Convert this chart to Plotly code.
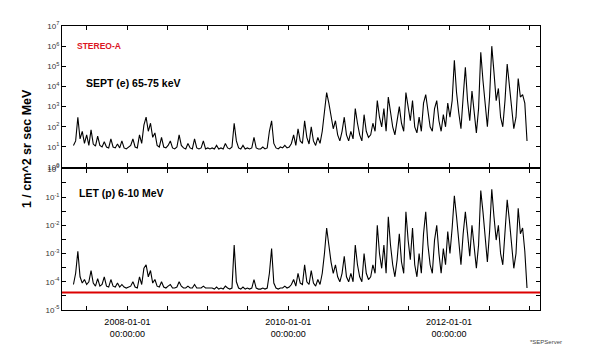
import pandas as pd
import plotly.graph_objects as go

# SEPT electrons 65-75 keV, 10-day samples starting 2007-05-01
sept_flux = [
    # 2007
    12, 20, 300, 25, 60, 15, 40, 12, 70, 14, 11, 35, 12, 10, 18, 10, 9, 25, 10, 9, 14, 9, 20, 9, 8,
    # 2008
    10, 12, 25, 10, 9, 40, 15, 120, 300, 60, 150, 30, 50, 12, 10, 30, 10, 9, 12, 20, 9, 8, 10, 40, 12,
    9, 8, 15, 9, 8, 25, 9, 8, 9, 20, 8, 9,
    # 2009
    8, 9, 8, 12, 8, 9, 8, 15, 9, 8, 10, 150, 20, 9, 8, 12, 8, 9, 8, 9, 30, 9, 8, 8, 10,
    8, 9, 60, 200, 15, 9, 8, 10, 9, 12, 9,
    # 2010
    10, 15, 40, 12, 80, 20, 15, 200, 30, 14, 100, 20, 12, 30, 15, 60, 400, 5000, 1500, 300,
    80, 200, 40, 20, 60, 300, 40, 20, 60, 25, 800, 150, 40, 20, 400, 60, 30,
    # 2011
    40, 150, 60, 2000, 300, 100, 800, 60, 3000, 500, 100, 40, 200, 1000, 150, 60, 5000, 800,
    200, 2000, 100, 50, 300, 60, 1500, 4000, 500, 100, 60, 800, 2000, 200, 60, 400, 100, 1500,
    # 2012
    300, 2000, 200000, 5000, 500, 80, 3000, 90000, 2000, 200, 6000, 500, 50, 800, 500000, 20000,
    1000, 100, 3000, 1000000, 50000, 2000, 8000, 300, 100, 2000, 130000, 10000, 500, 80, 300,
    25000, 3000, 4000, 1500, 20,
]

# LET protons 6-10 MeV, same sampling
let_flux = [
    # 2007
    8e-5, 2e-4, 1.2e-3, 1.5e-4, 9e-5, 1.2e-4, 8e-5, 1e-4, 2.5e-4, 9e-5, 7e-5, 1.3e-4, 7e-5, 8e-5,
    1.5e-4, 7e-5, 6.5e-5, 1.2e-4, 7e-5, 6.5e-5, 9e-5, 6.5e-5, 8e-5, 6.5e-5, 6e-5,
    # 2008
    6.5e-5, 7e-5, 1e-4, 6.5e-5, 6e-5, 1.5e-4, 8e-5, 3e-4, 4e-4, 1.5e-4, 2.5e-4, 9e-5, 1.2e-4, 7e-5,
    6.5e-5, 1e-4, 6.5e-5, 6e-5, 7e-5, 8e-5, 6e-5, 6e-5, 6.5e-5, 1e-4, 7e-5, 6e-5, 6e-5, 7e-5, 6e-5,
    6e-5, 8e-5, 6e-5, 6e-5, 6e-5, 7e-5, 6e-5, 6e-5,
    # 2009
    6e-5, 6e-5, 5.5e-5, 6.5e-5, 5.5e-5, 6e-5, 5.5e-5, 7e-5, 6e-5, 5.5e-5, 6e-5, 2e-3, 1e-4, 6e-5,
    5.5e-5, 6.5e-5, 5.5e-5, 6e-5, 5.5e-5, 6e-5, 1.2e-4, 6e-5, 5.5e-5, 5.5e-5, 6e-5, 5.5e-5, 6e-5,
    2e-4, 1.5e-3, 9e-5, 6e-5, 5.5e-5, 6e-5, 6e-5, 7e-5, 6e-5,
    # 2010
    6.5e-5, 8e-5, 1.2e-4, 7e-5, 2e-4, 9e-5, 8e-5, 4e-4, 1e-4, 8e-5, 2.5e-4, 9e-5, 7e-5, 1.2e-4,
    8e-5, 2e-4, 1e-3, 8e-3, 2e-3, 5e-4, 2e-4, 4e-4, 1.5e-4, 1e-4, 2e-4, 8e-4, 1.5e-4, 1e-4, 2e-4,
    1e-4, 2e-3, 4e-4, 1.5e-4, 1e-4, 1e-3, 2e-4, 1.2e-4,
    # 2011
    1.5e-4, 4e-4, 2e-4, 1e-2, 1e-3, 3e-4, 2e-3, 2e-4, 2e-2, 2e-3, 4e-4, 1.5e-4, 6e-4, 5e-3, 5e-4,
    2e-4, 3e-2, 3e-3, 6e-4, 8e-3, 4e-4, 1.5e-4, 1e-3, 2e-4, 5e-3, 3e-2, 2e-3, 4e-4, 2e-4, 3e-3,
    1e-2, 1e-3, 2e-4, 1.5e-3, 4e-4, 6e-3,
    # 2012
    1e-3, 8e-3, 0.11, 2e-2, 3e-3, 4e-4, 5e-3, 3e-2, 5e-3, 8e-4, 1e-2, 2e-3, 3e-4, 2e-3, 0.17, 3e-2,
    4e-3, 5e-4, 6e-3, 0.19, 2e-2, 3e-3, 1e-2, 1e-3, 4e-4, 5e-3, 0.08, 1.5e-2, 2e-3, 3e-4, 1e-3,
    0.04, 5e-3, 8e-3, 1.2e-3, 6e-5,
]

# red background level in the LET panel
bg_dates = ["2007-03-10", "2013-02-17"]
bg_level = [4.2e-5, 4.2e-5]

# x ticks every half year, labelled every two years
x_ticks = [f"{y}-{m:02d}-01" for y in range(2007, 2014) for m in (1, 7)]
x_labels = {"2008-01-01": "2008-01-01<br>00:00:00",
            "2010-01-01": "2010-01-01<br>00:00:00",
            "2012-01-01": "2012-01-01<br>00:00:00"}

sept_dec = list(range(0, 8))
let_dec = list(range(-5, 1))

sept_dates = pd.date_range("2007-05-01", periods=len(sept_flux), freq="10D")
let_dates = pd.date_range("2007-05-01", periods=len(let_flux), freq="10D")

fig = go.Figure()
fig.add_trace(go.Scatter(x=sept_dates, y=sept_flux, mode="lines",
                         line=dict(color="black", width=1.1), xaxis="x2", yaxis="y2"))
fig.add_trace(go.Scatter(x=let_dates, y=let_flux, mode="lines",
                         line=dict(color="black", width=1.1), xaxis="x", yaxis="y"))
fig.add_trace(go.Scatter(x=bg_dates, y=bg_level, mode="lines",
                         line=dict(color="rgb(220,0,0)", width=2), xaxis="x", yaxis="y"))

xt = dict(tickvals=x_ticks, ticks="inside", ticklen=4, tickcolor="black",
          showline=True, linecolor="black", linewidth=1, mirror="allticks",
          showgrid=False, zeroline=False, range=["2007-03-10", "2013-02-17"])

half = lambda decs: [10 ** (d / 2) for d in range(2 * decs[0], 2 * decs[-1] + 1)]
half_text = lambda decs: [f"10<sup>{d // 2}</sup>" if d % 2 == 0 else ""
                          for d in range(2 * decs[0], 2 * decs[-1] + 1)]

yt = dict(type="log", ticks="inside", ticklen=4, tickcolor="black",
          showline=True, linecolor="black", linewidth=1, mirror="allticks",
          showgrid=False, zeroline=False, tickfont=dict(size=8, color="#333"))

# the page body adds an 8px offset, margins are set to compensate
fig.update_layout(
    width=600, height=362,
    margin=dict(l=54, r=68, t=13, b=60),
    paper_bgcolor="white", plot_bgcolor="white",
    showlegend=False,
    font=dict(family="Liberation Sans, Arial, sans-serif", color="black"),
    xaxis=dict(**xt, anchor="y", ticktext=[x_labels.get(t, "") for t in x_ticks],
               tickfont=dict(size=9), ticklabelstandoff=3),
    xaxis2=dict(**xt, anchor="y2", matches="x", showticklabels=False),
    yaxis=dict(**yt, domain=[0, 0.497], range=[-5, 0],
               tickvals=half(let_dec), ticktext=half_text(let_dec)),
    yaxis2=dict(**yt, domain=[0.503, 1], range=[0, 7],
                tickvals=[10 ** d for d in sept_dec],
                ticktext=[f"10<sup>{d}</sup>" for d in sept_dec]),
    annotations=[
        dict(text="<b>1 / cm^2 sr sec MeV</b>", x=-0.073, y=0.567, xref="paper", yref="paper",
             xanchor="center", yanchor="middle", textangle=-90, showarrow=False,
             font=dict(size=12.5)),
        dict(text="<b>STEREO-A</b>", x=0.027, y=0.931, xref="paper", yref="paper",
             xanchor="left", yanchor="middle", showarrow=False,
             font=dict(size=8.5, color="rgb(220,20,30)")),
        dict(text="<b>SEPT (e) 65-75 keV</b>", x=0.045, y=0.80, xref="paper", yref="paper",
             xanchor="left", yanchor="middle", showarrow=False, font=dict(size=10.5)),
        dict(text="<b>LET (p) 6-10 MeV</b>", x=0.031, y=0.412, xref="paper", yref="paper",
             xanchor="left", yanchor="middle", showarrow=False, font=dict(size=10.5)),
        dict(text="*SEPServer", x=1.0126, y=-0.114, xref="paper", yref="paper",
             xanchor="center", yanchor="middle", showarrow=False,
             font=dict(size=6, color="#444")),
    ],
)

fig.write_html("out.html")
